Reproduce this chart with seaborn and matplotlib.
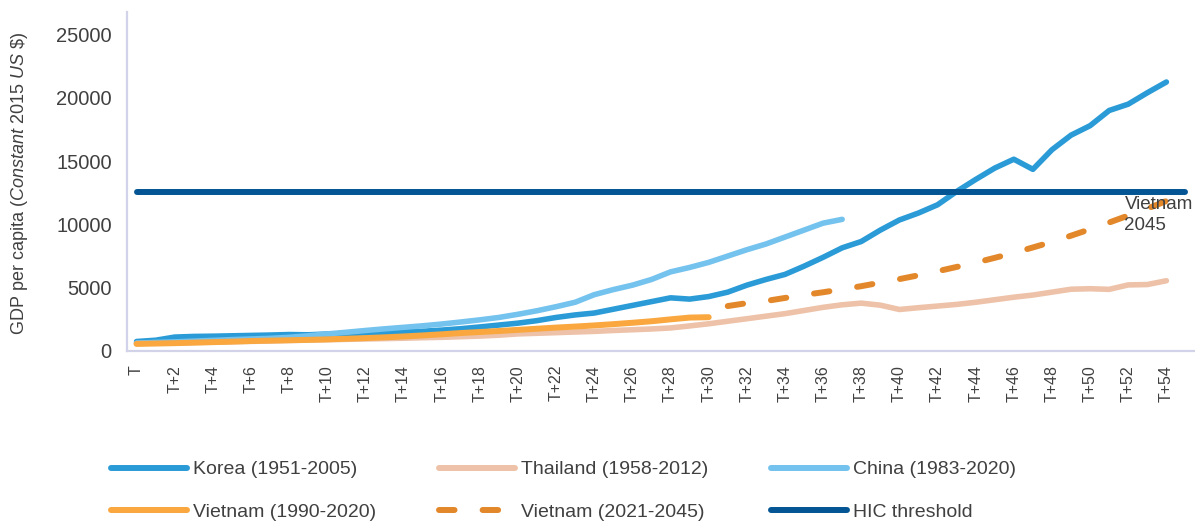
import matplotlib
matplotlib.use("Agg")
import matplotlib.pyplot as plt
from matplotlib.lines import Line2D
import pandas as pd
import seaborn as sns

# ---- data -------------------------------------------------------------
periods = ["T" if i == 0 else f"T+{i}" for i in range(56)]

korea = [750, 850, 1100, 1150, 1170, 1200, 1230, 1260, 1300, 1280,
         1340, 1380, 1420, 1460, 1500, 1560, 1650, 1760, 1900, 2050,
         2200, 2400, 2650, 2850, 3000, 3300, 3600, 3900, 4200, 4100,
         4300, 4650, 5200, 5650, 6050, 6700, 7400, 8150, 8650, 9550,
         10350, 10900, 11550, 12600, 13550, 14450, 15150, 14350, 15900, 17050,
         17800, 19000, 19500, 20400, 21250]

thailand = [600, 620, 640, 670, 700, 730, 760, 790, 830, 860,
            890, 920, 950, 980, 1010, 1050, 1080, 1130, 1180, 1250,
            1350, 1400, 1450, 1500, 1550, 1620, 1680, 1740, 1820, 1980,
            2150, 2350, 2550, 2750, 2950, 3200, 3450, 3650, 3780, 3620,
            3280, 3420, 3550, 3680, 3850, 4050, 4250, 4420, 4650, 4880,
            4920, 4870, 5220, 5250, 5550]

china = [620, 680, 720, 780, 840, 900, 950, 1000, 1080, 1200,
         1350, 1480, 1620, 1750, 1870, 1990, 2130, 2290, 2460, 2650,
         2900, 3180, 3500, 3850, 4450, 4850, 5200, 5650, 6250, 6600,
         7000, 7500, 8000, 8450, 9000, 9550, 10100, 10400]

vietnam_hist = [560, 590, 620, 660, 700, 740, 790, 820, 850, 880,
                920, 970, 1020, 1080, 1150, 1230, 1320, 1420, 1500, 1580,
                1670, 1760, 1850, 1930, 2020, 2120, 2230, 2350, 2500, 2640,
                2670]

vietnam_proj = [3550, 3780, 3950, 4190, 4430, 4640, 4880, 5120, 5400, 5680,
                5980, 6300, 6640, 6980, 7360, 7750, 8180, 8620, 9110, 9620,
                10150, 10700, 11250, 11850, 12500]
vietnam_proj_start = 31

hic_threshold = 12535

series_names = ["Korea (1951-2005)", "Thailand (1958-2012)", "China (1983-2020)",
                "Vietnam (1990-2020)", "Vietnam (2021-2045)", "HIC threshold"]
series_colors = ["#2A9BD6", "#EDC2A8", "#74C2EE", "#F9A73E", "#E3882A", "#045594"]

# ---- styling ------------------------------------------------------------
sns.set_theme(style="white")
plt.rcParams["font.family"] = ["Liberation Sans", "DejaVu Sans"]
plt.rcParams["mathtext.fontset"] = "custom"
plt.rcParams["mathtext.rm"] = "Liberation Sans"
plt.rcParams["mathtext.it"] = "Liberation Sans:italic"
text_color = "#404040"
axis_color = "#D2D2E8"

fig = plt.figure(figsize=(11.95, 5.21), dpi=100)
ax = fig.add_axes([127 / 1195, 170 / 521, 1068 / 1195, 339 / 521])


def frame(values, start=0):
    return pd.DataFrame({"t": range(start, start + len(values)), "gdp": values})


line_kw = dict(solid_capstyle="round", solid_joinstyle="round")

sns.lineplot(data=frame(korea), x="t", y="gdp", ax=ax, color=series_colors[0],
             lw=4.0, **line_kw)
sns.lineplot(data=frame(thailand), x="t", y="gdp", ax=ax, color=series_colors[1],
             lw=4.0, **line_kw)
sns.lineplot(data=frame(china), x="t", y="gdp", ax=ax, color=series_colors[2],
             lw=4.0, **line_kw)
sns.lineplot(data=frame(vietnam_hist), x="t", y="gdp", ax=ax, color=series_colors[3],
             lw=4.3, **line_kw)
sns.lineplot(data=frame(vietnam_proj, vietnam_proj_start), x="t", y="gdp", ax=ax,
             color=series_colors[4], lw=4.3, linestyle=(0, (2.6, 4.7)),
             dash_capstyle="round")
sns.lineplot(data=frame([hic_threshold] * len(periods)), x="t", y="gdp", ax=ax,
             color=series_colors[5], lw=4.3, **line_kw)

# label at the end of the projection
ax.annotate("Vietnam\n2045", xy=(vietnam_proj_start + len(vietnam_proj) - 1, vietnam_proj[-1]),
            xytext=(-61, -3), textcoords="offset pixels", ha="left", va="top",
            fontsize=13.5, color=text_color, linespacing=1.3)

# ---- axes -------------------------------------------------------------
ax.set_xlim(-0.5, 55.5)
ax.set_ylim(0, 26780)
ax.set_xticks(range(0, 55, 2))
ax.set_xticklabels(periods[0:55:2], rotation=90, fontsize=11.5, color=text_color)
ax.set_yticks(range(0, 25001, 5000))
ax.set_yticklabels([str(v) for v in range(0, 25001, 5000)], fontsize=14.5, color=text_color)
ax.tick_params(axis="both", length=0)
ax.tick_params(axis="x", pad=10)
ax.tick_params(axis="y", pad=11)
ax.set_xlabel("")
ax.set_ylabel("")
for side in ("top", "right"):
    ax.spines[side].set_visible(False)
for side in ("left", "bottom"):
    ax.spines[side].set_color(axis_color)
    ax.spines[side].set_linewidth(1.6)

fig.text(20 / 1195, 1 - 183.5 / 521,
         r"GDP per capita ($\mathit{Constant\ 2015\ US\ \$}$)",
         rotation=90, ha="center", va="center", fontsize=13, color=text_color)

# ---- legend (row-wise order in three columns) -----------------------------
handles = []
for name, color in zip(series_names, series_colors):
    if name == "Vietnam (2021-2045)":
        h = Line2D([], [], color=color, lw=4.3, linestyle=(0, (2.6, 4.7)),
                   dash_capstyle="round")
    else:
        h = Line2D([], [], color=color, lw=4.3, solid_capstyle="round")
    handles.append(h)
order = [0, 3, 1, 4, 2, 5]
fig.legend([handles[i] for i in order], [series_names[i] for i in order],
           ncol=3, loc="center left", bbox_to_anchor=(111 / 1195, 1 - 491 / 521),
           frameon=False, fontsize=14, labelcolor=text_color,
           handlelength=3.9, handletextpad=0.3, columnspacing=3.25,
           labelspacing=1.3, borderpad=0, borderaxespad=0)

fig.savefig("out.png", dpi=100)
